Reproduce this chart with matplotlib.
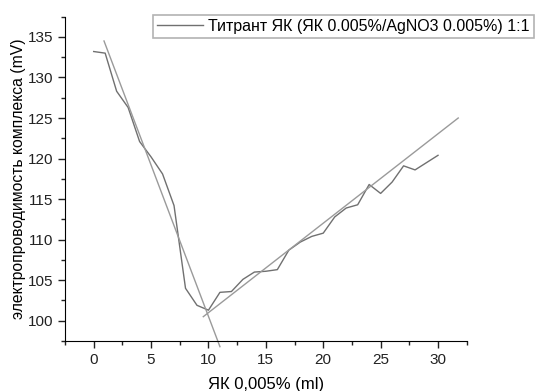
import numpy as np
import matplotlib
matplotlib.use("Agg")
import matplotlib.pyplot as plt
from matplotlib.ticker import MultipleLocator

plt.rcParams['font.family'] = ['Liberation Sans', 'DejaVu Sans']

# titration data
vol = [0, 1, 2, 3, 4, 5, 6, 7, 8, 9, 10, 11, 12, 13, 14, 15,
       16, 17, 18, 19, 20, 21, 22, 23, 24, 25, 26, 27, 28, 29, 30]
mv = [133.2, 133.0, 128.3, 126.3, 122.1, 120.2, 118.1, 114.2, 104.0, 101.9, 101.3,
      103.5, 103.6, 105.1, 106.0, 106.1, 106.3, 108.7, 109.7, 110.4, 110.8,
      112.8, 113.9, 114.3, 116.8, 115.7, 117.1, 119.1, 118.6, 119.5, 120.4]

# tangent lines (descending and ascending branch)
fit1_x = [0.9, 11.0]
fit1_y = [134.5, 96.8]
fit2_x = [9.55, 31.76]
fit2_y = [100.5, 125.0]

fig = plt.figure(figsize=(5.38, 3.91), dpi=100)
ax = fig.add_axes([0.1208, 0.1279, 0.7467, 0.8295])

ax.plot(vol, mv, color='#707070', lw=1.0,
        label='Титрант ЯК (ЯК 0.005%/AgNO3 0.005%) 1:1')
ax.plot(fit1_x, fit1_y, color='#9a9a9a', lw=1.0, clip_on=False)
ax.plot(fit2_x, fit2_y, color='#9a9a9a', lw=1.0, clip_on=False)

ax.set_xlim(-2.5, 32.5)
ax.set_ylim(97.5, 137.5)
ax.xaxis.set_major_locator(MultipleLocator(5))
ax.xaxis.set_minor_locator(MultipleLocator(2.5))
ax.yaxis.set_major_locator(MultipleLocator(5))
ax.yaxis.set_minor_locator(MultipleLocator(2.5))
ax.tick_params(which='major', direction='out', length=5, width=1, labelsize=11, colors='#222222')
ax.tick_params(which='minor', direction='out', length=3, width=1, colors='#222222')
ax.spines['top'].set_visible(False)
ax.spines['right'].set_visible(False)

ax.set_xlabel('ЯК 0,005% (ml)', fontsize=12, labelpad=7)
ax.set_ylabel('электропроводимость комплекса (mV)', fontsize=11.3, labelpad=1.5)

leg = ax.legend(loc='upper left', bbox_to_anchor=(0.218, 1.005), fontsize=11.5,
                frameon=True, fancybox=False, borderpad=0.25, handlelength=2.9,
                handletextpad=0.35, borderaxespad=0)
leg.get_frame().set_edgecolor('#a0a0a0')
leg.get_frame().set_linewidth(1.2)

fig.savefig('out.png', dpi=100)
